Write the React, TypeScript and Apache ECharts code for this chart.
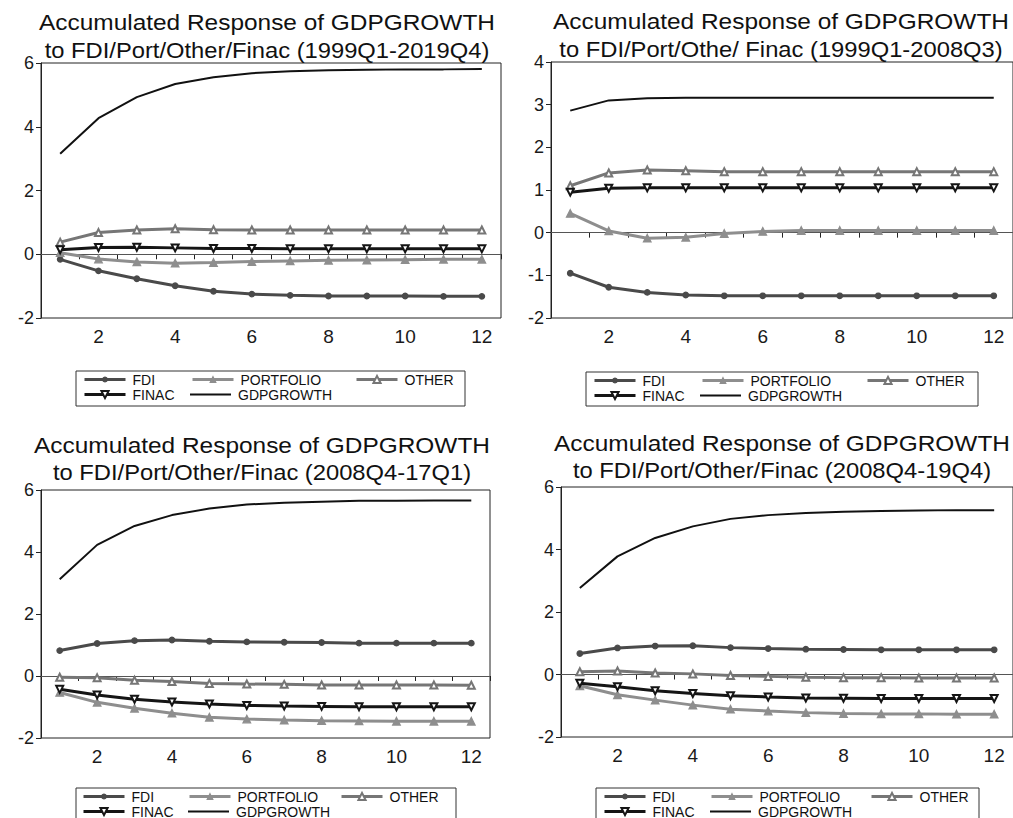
import React, { useEffect, useRef } from "react";
import * as echarts from "echarts";

const PERIODS = ["1", "2", "3", "4", "5", "6", "7", "8", "9", "10", "11", "12"];
const SERIES_NAMES = ["FDI", "PORTFOLIO", "OTHER", "FINAC", "GDPGROWTH"];

// Panel 1: 1999Q1-2019Q4
const p1Fdi = [-0.16, -0.52, -0.77, -0.99, -1.16, -1.25, -1.29, -1.31, -1.31, -1.31, -1.32, -1.32];
const p1Portfolio = [0.05, -0.15, -0.24, -0.28, -0.26, -0.23, -0.21, -0.19, -0.18, -0.17, -0.16, -0.16];
const p1Other = [0.38, 0.68, 0.76, 0.8, 0.77, 0.76, 0.76, 0.76, 0.76, 0.76, 0.76, 0.76];
const p1Finac = [0.14, 0.21, 0.22, 0.2, 0.18, 0.18, 0.17, 0.17, 0.17, 0.17, 0.17, 0.17];
const p1Gdp = [3.15, 4.27, 4.93, 5.34, 5.55, 5.68, 5.74, 5.77, 5.79, 5.8, 5.8, 5.81];

// Panel 2: 1999Q1-2008Q3
const p2Fdi = [-0.95, -1.28, -1.4, -1.46, -1.48, -1.48, -1.48, -1.48, -1.48, -1.48, -1.48, -1.48];
const p2Portfolio = [0.45, 0.04, -0.13, -0.11, -0.02, 0.03, 0.05, 0.05, 0.05, 0.05, 0.05, 0.05];
const p2Other = [1.1, 1.4, 1.47, 1.45, 1.43, 1.43, 1.43, 1.43, 1.43, 1.43, 1.43, 1.43];
const p2Finac = [0.95, 1.04, 1.05, 1.05, 1.05, 1.05, 1.05, 1.05, 1.05, 1.05, 1.05, 1.05];
const p2Gdp = [2.86, 3.1, 3.15, 3.16, 3.16, 3.16, 3.16, 3.16, 3.16, 3.16, 3.16, 3.16];

// Panel 3: 2008Q4-17Q1
const p3Fdi = [0.82, 1.05, 1.14, 1.16, 1.12, 1.1, 1.09, 1.08, 1.06, 1.06, 1.06, 1.06];
const p3Portfolio = [-0.53, -0.85, -1.04, -1.2, -1.33, -1.39, -1.42, -1.44, -1.45, -1.46, -1.46, -1.46];
const p3Other = [-0.04, -0.06, -0.14, -0.18, -0.24, -0.26, -0.27, -0.29, -0.29, -0.29, -0.29, -0.3];
const p3Finac = [-0.43, -0.61, -0.75, -0.84, -0.9, -0.95, -0.97, -0.98, -0.99, -0.99, -0.99, -0.99];
const p3Gdp = [3.12, 4.23, 4.84, 5.19, 5.4, 5.53, 5.59, 5.62, 5.65, 5.65, 5.66, 5.66];

// Panel 4: 2008Q4-19Q4
const p4Fdi = [0.67, 0.85, 0.91, 0.92, 0.86, 0.83, 0.81, 0.8, 0.79, 0.79, 0.79, 0.79];
const p4Portfolio = [-0.36, -0.65, -0.82, -0.98, -1.11, -1.17, -1.22, -1.25, -1.26, -1.26, -1.27, -1.27];
const p4Other = [0.09, 0.11, 0.05, 0.02, -0.03, -0.06, -0.09, -0.1, -0.1, -0.11, -0.11, -0.11];
const p4Finac = [-0.28, -0.39, -0.52, -0.61, -0.68, -0.72, -0.75, -0.76, -0.77, -0.77, -0.77, -0.77];
const p4Gdp = [2.77, 3.78, 4.37, 4.74, 4.98, 5.1, 5.17, 5.21, 5.23, 5.25, 5.26, 5.26];

const TITLE_LINE1 = "Accumulated Response of GDPGROWTH";
const TITLES_LINE2 = [
  "to FDI/Port/Other/Finac (1999Q1-2019Q4)",
  "to FDI/Port/Othe/ Finac (1999Q1-2008Q3)",
  "to FDI/Port/Other/Finac (2008Q4-17Q1)",
  "to FDI/Port/Other/Finac (2008Q4-19Q4)",
];

const Y_MIN = [-2, -2, -2, -2];
const Y_MAX = [6, 4, 6, 6];
const Y_STEP = [2, 1, 2, 2];

const PANEL_DATA = [
  [p1Fdi, p1Portfolio, p1Other, p1Finac, p1Gdp],
  [p2Fdi, p2Portfolio, p2Other, p2Finac, p2Gdp],
  [p3Fdi, p3Portfolio, p3Other, p3Finac, p3Gdp],
  [p4Fdi, p4Portfolio, p4Other, p4Finac, p4Gdp],
];

const FONT = '"Liberation Sans", Arial, Helvetica, sans-serif';

// layout (pixels)
const GRIDS = [
  { left: 41, top: 63, width: 460, height: 255 },
  { left: 551, top: 62, width: 462, height: 256 },
  { left: 41, top: 490, width: 449, height: 248 },
  { left: 561, top: 487, width: 452, height: 250 },
];
const TITLE_POS = [
  { cx: 267, y1: 22, y2: 50 },
  { cx: 781, y1: 21, y2: 49 },
  { cx: 262, y1: 445, y2: 472 },
  { cx: 782, y1: 443, y2: 470 },
];
const LEGEND_BOX = [
  { x: 76, y: 371, w: 389, h: 35 },
  { x: 586, y: 372, w: 392, h: 34 },
  { x: 76, y: 788, w: 380, h: 35 },
  { x: 596, y: 788, w: 383, h: 35 },
];
// icon left positions per item [FDI, PORTFOLIO, OTHER, FINAC, GDPGROWTH] and rows
const LEGEND_X = [
  [83, 191, 355, 83, 190],
  [593, 701, 866, 593, 700],
  [82, 188, 340, 82, 188],
  [603, 710, 870, 603, 710],
];
const LEGEND_ROWS = [
  [379.5, 394.5],
  [380.5, 395.5],
  [796.5, 811.5],
  [796.5, 811.5],
];

const STYLES: any = {
  FDI: { color: "#4a4a4a", width: 3, symbol: "circle", size: 5.5, legendH: 6 },
  PORTFOLIO: { color: "#8e8e8e", width: 3, symbol: "triangle", size: 7.5, legendH: 7 },
  OTHER: { color: "#767676", width: 3, symbol: "emptyTriangle", size: 7, legendH: 9 },
  FINAC: { color: "#151515", width: 3, symbol: "emptyTriangle", size: 7, rotate: 180, legendH: 9 },
  GDPGROWTH: { color: "#111111", width: 2, symbol: "none", size: 0, legendH: 2 },
};

function buildOption() {
  const grid: any[] = [];
  const xAxis: any[] = [];
  const yAxis: any[] = [];
  const series: any[] = [];
  const legend: any[] = [];
  const graphic: any[] = [];

  for (let p = 0; p < 4; p++) {
    const g = GRIDS[p];
    grid.push({
      left: g.left,
      top: g.top,
      width: g.width,
      height: g.height,
      show: true,
      borderColor: "#222",
      borderWidth: 1,
      backgroundColor: "transparent",
    });
    xAxis.push({
      type: "category",
      gridIndex: p,
      data: PERIODS,
      boundaryGap: true,
      axisLine: { show: true, lineStyle: { color: "#222", width: 1 } },
      axisTick: { show: true, interval: 0, length: 5, inside: false, lineStyle: { color: "#222" } },
      axisLabel: {
        interval: (i: number) => i % 2 === 1,
        fontSize: 19,
        fontFamily: FONT,
        color: "#1a1a1a",
        margin: 9,
      },
      splitLine: { show: false },
    });
    yAxis.push({
      type: "value",
      gridIndex: p,
      min: Y_MIN[p],
      max: Y_MAX[p],
      interval: Y_STEP[p],
      axisLine: { show: true, lineStyle: { color: "#222", width: 1 } },
      axisTick: { show: true, length: 5, inside: false, lineStyle: { color: "#222" } },
      axisLabel: { fontSize: 18, fontFamily: FONT, color: "#1a1a1a", margin: 7 },
      splitLine: { show: false },
    });

    const data = PANEL_DATA[p];
    SERIES_NAMES.forEach((name, k) => {
      const st = STYLES[name];
      const isGdp = name === "GDPGROWTH";
      const s: any = {
        type: "line",
        name,
        xAxisIndex: p,
        yAxisIndex: p,
        data: data[k],
        smooth: false,
        symbol: st.symbol,
        symbolSize: st.size,
        symbolRotate: st.rotate || 0,
        showSymbol: st.symbol !== "none",
        lineStyle: { color: st.color, width: st.width },
        itemStyle: { color: st.color, borderColor: st.color, borderWidth: isGdp ? 0 : 1.3 },
        emphasis: { disabled: true },
        z: isGdp ? 3 : 4,
      };
      if (k === 0) {
        s.markLine = {
          silent: true,
          symbol: ["none", "none"],
          label: { show: false },
          lineStyle: { color: "#555", width: 1, type: "solid" },
          data: [{ yAxis: 0 }],
          z: 1,
        };
      }
      series.push(s);

      const row = k < 3 ? 0 : 1;
      legend.push({
        data: [isGdp ? { name, icon: "rect" } : { name }],
        left: LEGEND_X[p][k],
        top: LEGEND_ROWS[p][row] - 7,
        orient: "horizontal",
        padding: 0,
        itemWidth: 41,
        itemHeight: st.legendH,
        itemGap: 0,
        selectedMode: false,
        lineStyle: { width: isGdp ? 2 : 3 },
        itemStyle: isGdp ? { borderWidth: 0 } : { borderWidth: 1.2 },
        textStyle: { fontSize: 14, lineHeight: 14, fontFamily: FONT, color: "#111", padding: [0, 0, 0, 2] },
      });
    });

    // titles
    const t = TITLE_POS[p];
    graphic.push({
      type: "text",
      x: t.cx,
      y: t.y1,
      scaleX: 1.11,
      style: {
        text: TITLE_LINE1,
        font: `22px ${FONT}`,
        fill: "#111",
        textAlign: "center",
        textVerticalAlign: "middle",
      },
    });
    graphic.push({
      type: "text",
      x: t.cx,
      y: t.y2,
      scaleX: 1.08,
      style: {
        text: TITLES_LINE2[p],
        font: `22px ${FONT}`,
        fill: "#111",
        textAlign: "center",
        textVerticalAlign: "middle",
      },
    });
    // legend frame
    const b = LEGEND_BOX[p];
    graphic.push({
      type: "rect",
      shape: { x: b.x, y: b.y, width: b.w, height: b.h },
      style: { fill: "transparent", stroke: "#333", lineWidth: 1 },
      z: -1,
    });
  }

  return {
    animation: false,
    backgroundColor: "#ffffff",
    grid,
    xAxis,
    yAxis,
    series,
    legend,
    graphic,
  };
}

export default function App() {
  const ref = useRef<HTMLDivElement | null>(null);
  useEffect(() => {
    if (!ref.current) return;
    const chart = echarts.init(ref.current, undefined, { renderer: "svg" });
    chart.setOption(buildOption() as any);
    return () => {
      chart.dispose();
    };
  }, []);
  return (
    <div
      ref={ref}
      style={{ position: "absolute", left: 0, top: 0, width: 1013, height: 818, background: "#fff" }}
    />
  );
}
